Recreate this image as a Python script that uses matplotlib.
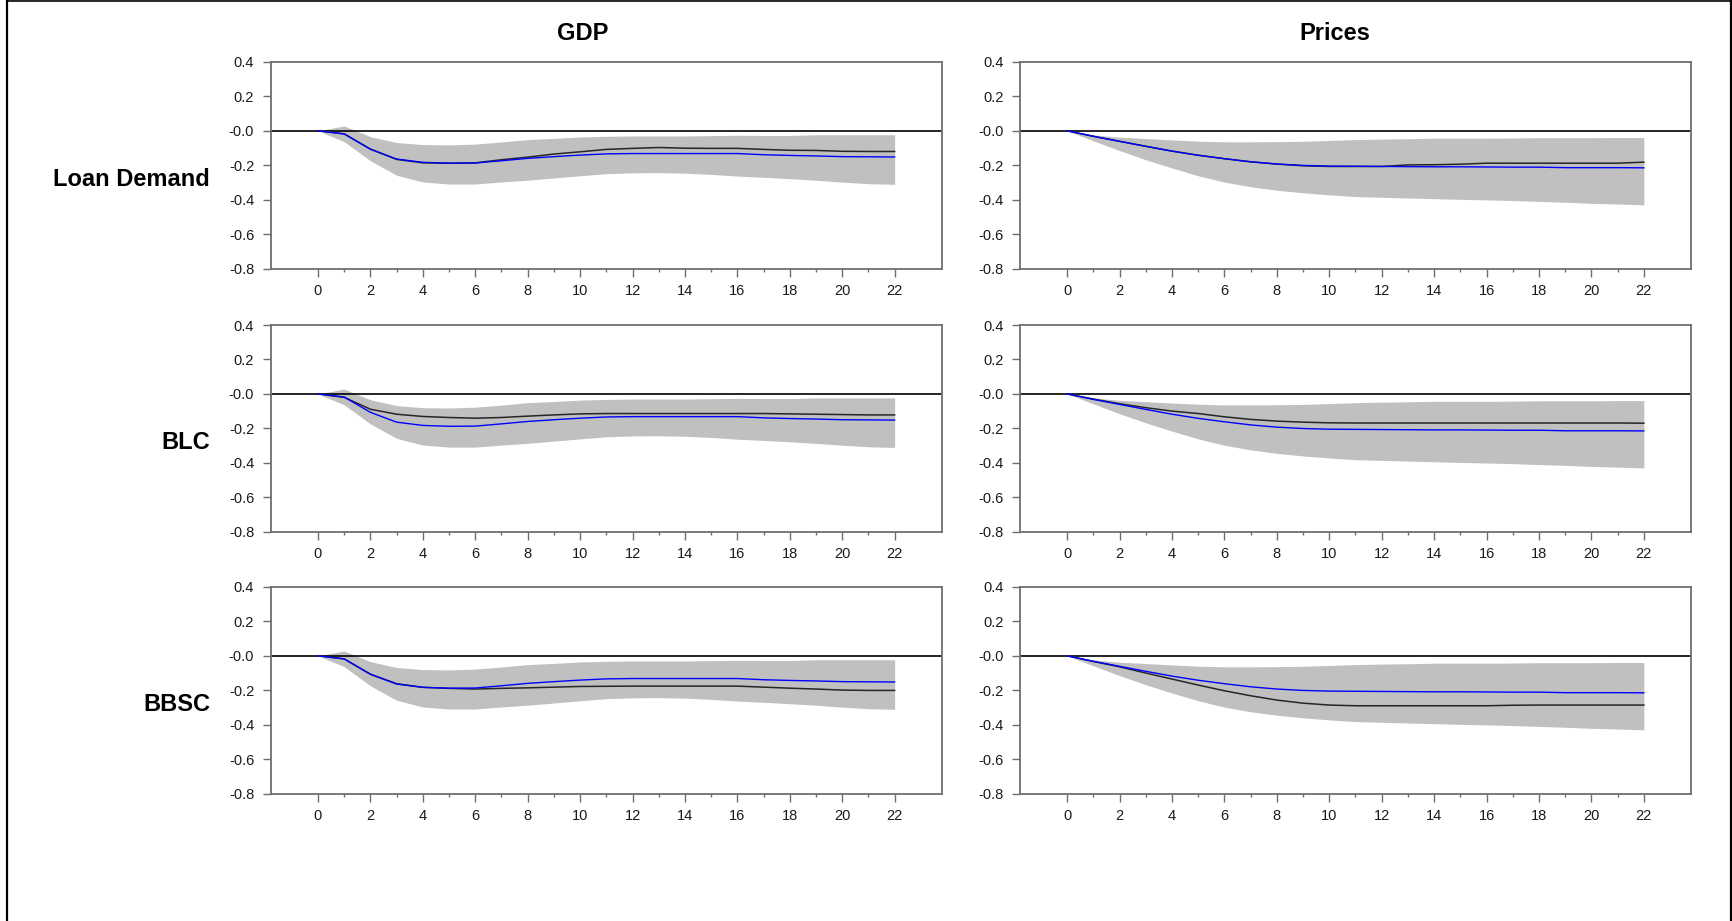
import matplotlib
matplotlib.use("Agg")
import matplotlib.pyplot as plt
from matplotlib.lines import Line2D
from matplotlib.ticker import FixedLocator


# DATA ------------------------------------------------------------------------

horizon = list(range(23))

col_titles = ["GDP", "Prices"]
row_labels = ["Loan Demand", "BLC", "BBSC"]

y_ticks = [0.4, 0.2, 0.0, -0.2, -0.4, -0.6, -0.8]
y_tick_labels = ["0.4", "0.2", "-0.0", "-0.2", "-0.4", "-0.6", "-0.8"]
x_ticks = list(range(0, 23, 2))
x_minor_ticks = list(range(1, 22, 2))

# baseline response (blue) and its confidence band, GDP
gdp_base = [0.0, -0.018, -0.107, -0.164, -0.183, -0.188, -0.187, -0.174,
            -0.160, -0.150, -0.141, -0.134, -0.132, -0.132, -0.132, -0.132,
            -0.132, -0.139, -0.143, -0.146, -0.150, -0.151, -0.152]
gdp_upper = [0.0, 0.028, -0.034, -0.068, -0.080, -0.082, -0.077, -0.065,
             -0.051, -0.044, -0.036, -0.032, -0.030, -0.030, -0.030, -0.028,
             -0.026, -0.027, -0.027, -0.023, -0.023, -0.023, -0.023]
gdp_lower = [0.0, -0.063, -0.174, -0.258, -0.297, -0.309, -0.309, -0.297,
             -0.287, -0.274, -0.261, -0.249, -0.244, -0.243, -0.246, -0.253,
             -0.263, -0.270, -0.278, -0.287, -0.298, -0.307, -0.311]

# baseline response (blue) and its confidence band, Prices
prices_base = [0.0, -0.032, -0.061, -0.090, -0.118, -0.142, -0.162, -0.180,
               -0.193, -0.201, -0.205, -0.206, -0.207, -0.208, -0.209, -0.209,
               -0.210, -0.211, -0.211, -0.214, -0.214, -0.214, -0.215]
prices_upper = [0.0, -0.024, -0.037, -0.045, -0.053, -0.060, -0.064, -0.064,
                -0.063, -0.061, -0.056, -0.051, -0.048, -0.046, -0.043, -0.043,
                -0.043, -0.042, -0.040, -0.040, -0.040, -0.039, -0.039]
prices_lower = [0.0, -0.058, -0.115, -0.168, -0.216, -0.261, -0.298, -0.325,
                -0.345, -0.360, -0.372, -0.382, -0.386, -0.390, -0.394, -0.398,
                -0.401, -0.405, -0.410, -0.415, -0.421, -0.425, -0.430]

# alternative responses (black), one per row
gdp_loan_demand = [0.0, -0.018, -0.106, -0.166, -0.186, -0.188, -0.186, -0.168,
                   -0.153, -0.135, -0.122, -0.108, -0.102, -0.097, -0.101,
                   -0.102, -0.102, -0.108, -0.113, -0.114, -0.119, -0.120,
                   -0.120]
gdp_blc = [0.0, -0.020, -0.089, -0.118, -0.131, -0.137, -0.141, -0.137,
           -0.129, -0.122, -0.116, -0.114, -0.114, -0.114, -0.114, -0.114,
           -0.114, -0.114, -0.116, -0.118, -0.120, -0.122, -0.122]
gdp_bbsc = [0.0, -0.018, -0.107, -0.162, -0.183, -0.189, -0.193, -0.189,
            -0.186, -0.182, -0.178, -0.177, -0.176, -0.176, -0.176, -0.176,
            -0.176, -0.182, -0.188, -0.193, -0.199, -0.201, -0.201]

prices_loan_demand = [0.0, -0.032, -0.061, -0.090, -0.118, -0.142, -0.162,
                      -0.180, -0.193, -0.203, -0.207, -0.207, -0.207, -0.198,
                      -0.197, -0.194, -0.188, -0.188, -0.188, -0.188, -0.188,
                      -0.188, -0.182]
prices_blc = [0.0, -0.030, -0.057, -0.080, -0.100, -0.114, -0.133, -0.148,
              -0.158, -0.164, -0.168, -0.169, -0.169, -0.169, -0.169, -0.169,
              -0.169, -0.169, -0.169, -0.169, -0.169, -0.169, -0.170]
prices_bbsc = [0.0, -0.033, -0.064, -0.100, -0.135, -0.170, -0.203, -0.232,
               -0.257, -0.275, -0.286, -0.290, -0.290, -0.290, -0.290, -0.290,
               -0.290, -0.287, -0.286, -0.286, -0.286, -0.286, -0.286]


# PLOTTING --------------------------------------------------------------------

plt.rcParams['font.family'] = ['Liberation Sans', 'DejaVu Sans']

W, H = 1733, 921
fig = plt.figure(figsize=(W / 100, H / 100), dpi=100)

spine_col = '#6e6e6e'
col_left = [270.8, 1020.0]
col_width = 671.0
row_top = [61.9, 325.0, 586.9]
row_height = 206.7

bands = [(gdp_base, gdp_upper, gdp_lower),
         (prices_base, prices_upper, prices_lower)]
alts = [[gdp_loan_demand, prices_loan_demand],
        [gdp_blc, prices_blc],
        [gdp_bbsc, prices_bbsc]]


def draw_panel(ax, base, upper, lower, alt):
    ax.fill_between(horizon, lower, upper, color='#c0c0c0', lw=0, zorder=1)
    ax.axhline(0, color='black', lw=1.2, zorder=2)
    ax.plot(horizon, alt, color='#262626', lw=1.1, zorder=3)
    ax.plot(horizon, base, color='#0000ff', lw=1.0, zorder=4)

    ax.set_xlim(-1.8, 23.8)
    ax.set_ylim(-0.8, 0.4)
    ax.xaxis.set_major_locator(FixedLocator(x_ticks))
    ax.xaxis.set_minor_locator(FixedLocator(x_minor_ticks))
    ax.yaxis.set_major_locator(FixedLocator(y_ticks))
    ax.set_yticklabels(y_tick_labels)

    for s in ax.spines.values():
        s.set_color(spine_col)
        s.set_linewidth(1.3)
    ax.tick_params(axis='both', which='major', direction='out', length=6,
                   width=1.0, color=spine_col, labelsize=10.5,
                   labelcolor='#1a1a1a', pad=5)
    ax.tick_params(axis='x', which='minor', direction='out', length=2.5,
                   width=1.0, color=spine_col)
    ax.tick_params(axis='y', pad=6)


for r in range(3):
    for c in range(2):
        rect = [col_left[c] / W, 1 - (row_top[r] + row_height) / H,
                col_width / W, row_height / H]
        ax = fig.add_axes(rect)
        base, upper, lower = bands[c]
        draw_panel(ax, base, upper, lower, alts[r][c])

# column titles and row labels
for c, title in enumerate(col_titles):
    cx = [583.0, 1335.0][c]
    fig.text(cx / W, 1 - 33 / H, title, ha='center', va='center',
             fontsize=17, fontweight='bold')

for r, label in enumerate(row_labels):
    cy = row_top[r] + row_height / 2 + 14
    fig.text(210 / W, 1 - cy / H, label, ha='right', va='center',
             fontsize=17, fontweight='bold')

# outer frame of the original picture
fig.add_artist(Line2D([7.5 / W, 7.5 / W], [0, 1], color='black', lw=1.6))
fig.add_artist(Line2D([7.5 / W, 1731.5 / W], [1 - 1.2 / H, 1 - 1.2 / H],
                      color='black', lw=1.2))
fig.add_artist(Line2D([1731.5 / W, 1731.5 / W], [0, 1], color='black', lw=1.6))

fig.savefig('out.png', dpi=100)
plt.close(fig)
